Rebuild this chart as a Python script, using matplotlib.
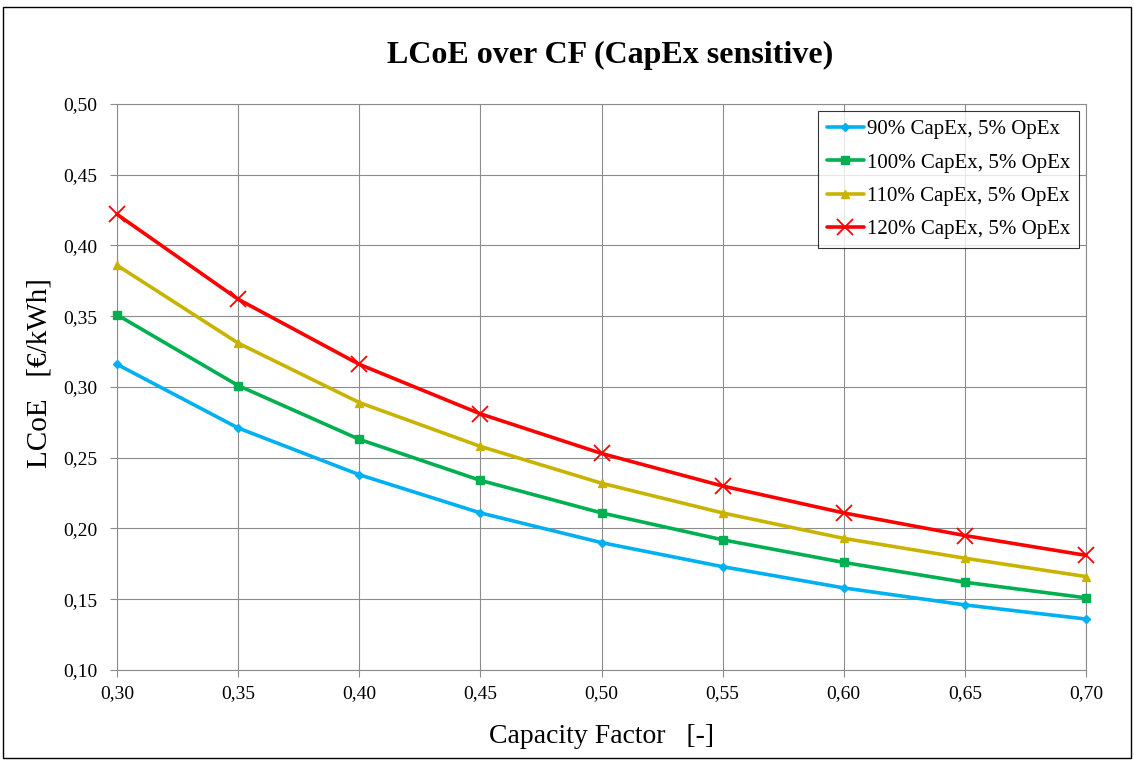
import matplotlib
matplotlib.use("Agg")
import matplotlib.pyplot as plt
from matplotlib.ticker import FuncFormatter, MultipleLocator
from matplotlib.patches import Rectangle

cf = [0.30, 0.35, 0.40, 0.45, 0.50, 0.55, 0.60, 0.65, 0.70]
capex90 = [0.316, 0.271, 0.238, 0.211, 0.190, 0.173, 0.158, 0.146, 0.136]
capex100 = [0.351, 0.301, 0.263, 0.234, 0.211, 0.192, 0.176, 0.162, 0.151]
capex110 = [0.386, 0.331, 0.289, 0.258, 0.232, 0.211, 0.193, 0.179, 0.166]
capex120 = [0.422, 0.362, 0.316, 0.281, 0.253, 0.230, 0.211, 0.195, 0.181]
labels = ["90% CapEx, 5% OpEx", "100% CapEx, 5% OpEx",
          "110% CapEx, 5% OpEx", "120% CapEx, 5% OpEx"]

plt.rcParams['font.family'] = ['Liberation Serif', 'DejaVu Serif']

fig = plt.figure(figsize=(11.34, 7.61), dpi=100)
ax = fig.add_axes([0.1032, 0.1196, 0.8545, 0.7438])

series = [
    (capex90, "#00B0F0", "D", 4, 1.0),
    (capex100, "#00B050", "s", 6, 1.0),
    (capex110, "#C8B400", "^", 6, 1.0),
    (capex120, "#FF0000", "x", 12, 1.3),
]
for (vals, col, mk, ms, mew), lab in zip(series, labels):
    ax.plot(cf, vals, color=col, lw=2.6, marker=mk, markersize=ms,
            markeredgewidth=mew, label=lab, solid_capstyle='round',
            solid_joinstyle='round', clip_on=False, zorder=3)

ax.set_xlim(0.30, 0.70)
ax.set_ylim(0.10, 0.50)
ax.xaxis.set_major_locator(MultipleLocator(0.05))
ax.yaxis.set_major_locator(MultipleLocator(0.05))
fmt = FuncFormatter(lambda v, p: f"{v:.2f}".replace(".", ","))
ax.xaxis.set_major_formatter(fmt)
ax.yaxis.set_major_formatter(fmt)
ax.grid(True, color="#8c8c8c", lw=0.8)
ax.set_axisbelow(True)
for s in ax.spines.values():
    s.set_color("#8c8c8c")
    s.set_linewidth(0.8)
ax.tick_params(axis='both', colors="#8c8c8c", labelcolor="black",
               labelsize=14, length=5, width=0.8, direction='out')
ax.tick_params(axis='x', pad=6)
ax.tick_params(axis='y', pad=9)

ax.set_xlabel("Capacity Factor   [-]", fontsize=20)
ax.xaxis.set_label_coords(0.4995, -0.096)
ax.set_ylabel("LCoE   [€/kWh]", fontsize=21)
ax.yaxis.set_label_coords(-0.067, 0.524)
fig.text(0.538, 0.927, "LCoE over CF (CapEx sensitive)", ha='center', va='center',
         fontsize=23, fontweight='bold')

leg = ax.legend(loc='upper right', fontsize=15, frameon=True, fancybox=False,
                edgecolor='black', borderpad=0.42, labelspacing=0.66,
                handlelength=1.78, handletextpad=0.15, borderaxespad=0.0,
                bbox_to_anchor=(0.9928, 0.9876))
leg.get_frame().set_linewidth(0.8)

fig.patches.append(Rectangle((0.003, 0.004), 0.994, 0.987, transform=fig.transFigure,
                             fill=False, edgecolor='black', lw=1.0))

fig.savefig("out.png", dpi=100)
